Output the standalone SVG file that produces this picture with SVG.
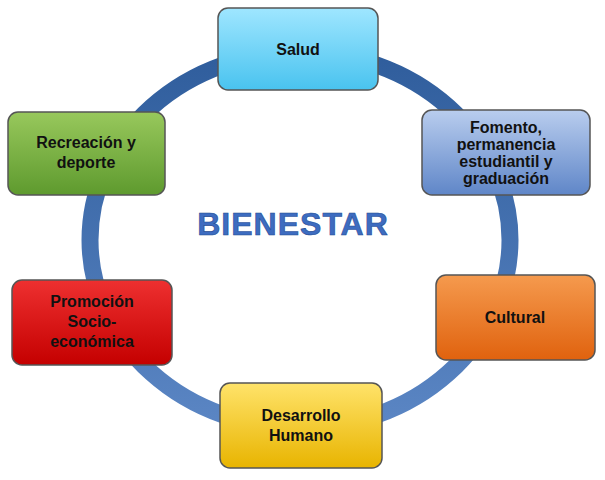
<svg xmlns="http://www.w3.org/2000/svg" width="605" height="480" viewBox="0 0 605 480">
<defs>
<linearGradient id="ring" x1="0" y1="0" x2="0" y2="1"><stop offset="0" stop-color="#2f5d9c"/><stop offset="1" stop-color="#5b86c4"/></linearGradient>
<linearGradient id="g1" x1="0" y1="0" x2="0" y2="1"><stop offset="0" stop-color="#9fe6ff"/><stop offset="1" stop-color="#49c3ef"/></linearGradient>
<linearGradient id="g2" x1="0" y1="0" x2="0" y2="1"><stop offset="0" stop-color="#b9cdee"/><stop offset="1" stop-color="#5f86c8"/></linearGradient>
<linearGradient id="g3" x1="0" y1="0" x2="0" y2="1"><stop offset="0" stop-color="#f59a4e"/><stop offset="1" stop-color="#e0620e"/></linearGradient>
<linearGradient id="g4" x1="0" y1="0" x2="0" y2="1"><stop offset="0" stop-color="#ffe36a"/><stop offset="1" stop-color="#e8b400"/></linearGradient>
<linearGradient id="g5" x1="0" y1="0" x2="0" y2="1"><stop offset="0" stop-color="#ee3030"/><stop offset="1" stop-color="#c40000"/></linearGradient>
<linearGradient id="g6" x1="0" y1="0" x2="0" y2="1"><stop offset="0" stop-color="#98c85c"/><stop offset="1" stop-color="#5e9a2e"/></linearGradient>
</defs>
<style>
.box{stroke:#555;stroke-width:1.5}
.t{font-family:"Liberation Sans",Arial,sans-serif;font-weight:bold;font-size:16px;fill:#111;text-anchor:middle}
</style>
<rect width="605" height="480" fill="#fff"/>
<g id="connectors"><ellipse cx="300" cy="240" rx="210" ry="188" fill="none" stroke="url(#ring)" stroke-width="17"/></g>
<text x="293" y="235" font-family="Liberation Sans,Arial,sans-serif" font-weight="bold" font-size="32" fill="#3d6cc0" stroke="#1f4a94" stroke-width="0.6" text-anchor="middle" letter-spacing="1">BIENESTAR</text>
<g id="salud"><rect class="box" x="218" y="8" width="160" height="82" rx="10" fill="url(#g1)"/><text class="t" x="298" y="55">Salud</text></g>
<g id="fomento"><rect class="box" x="422" y="110" width="168" height="85" rx="10" fill="url(#g2)"/><text class="t" x="506" y="133" font-size="15">Fomento,</text><text class="t" x="506" y="150" font-size="15">permanencia</text><text class="t" x="506" y="167" font-size="15">estudiantil y</text><text class="t" x="506" y="184" font-size="15">graduación</text></g>
<g id="cultural"><rect class="box" x="436" y="275" width="159" height="85" rx="10" fill="url(#g3)"/><text class="t" x="515" y="323">Cultural</text></g>
<g id="desarrollo"><rect class="box" x="220" y="383" width="162" height="85" rx="10" fill="url(#g4)"/><text class="t" x="301" y="421">Desarrollo</text><text class="t" x="301" y="441">Humano</text></g>
<g id="promocion"><rect class="box" x="12" y="280" width="160" height="85" rx="10" fill="url(#g5)"/><text class="t" x="92" y="307">Promoción</text><text class="t" x="92" y="327">Socio-</text><text class="t" x="92" y="347">económica</text></g>
<g id="recreacion"><rect class="box" x="8" y="112" width="157" height="83" rx="10" fill="url(#g6)"/><text class="t" x="86" y="148">Recreación y</text><text class="t" x="86" y="168">deporte</text></g>
</svg>
